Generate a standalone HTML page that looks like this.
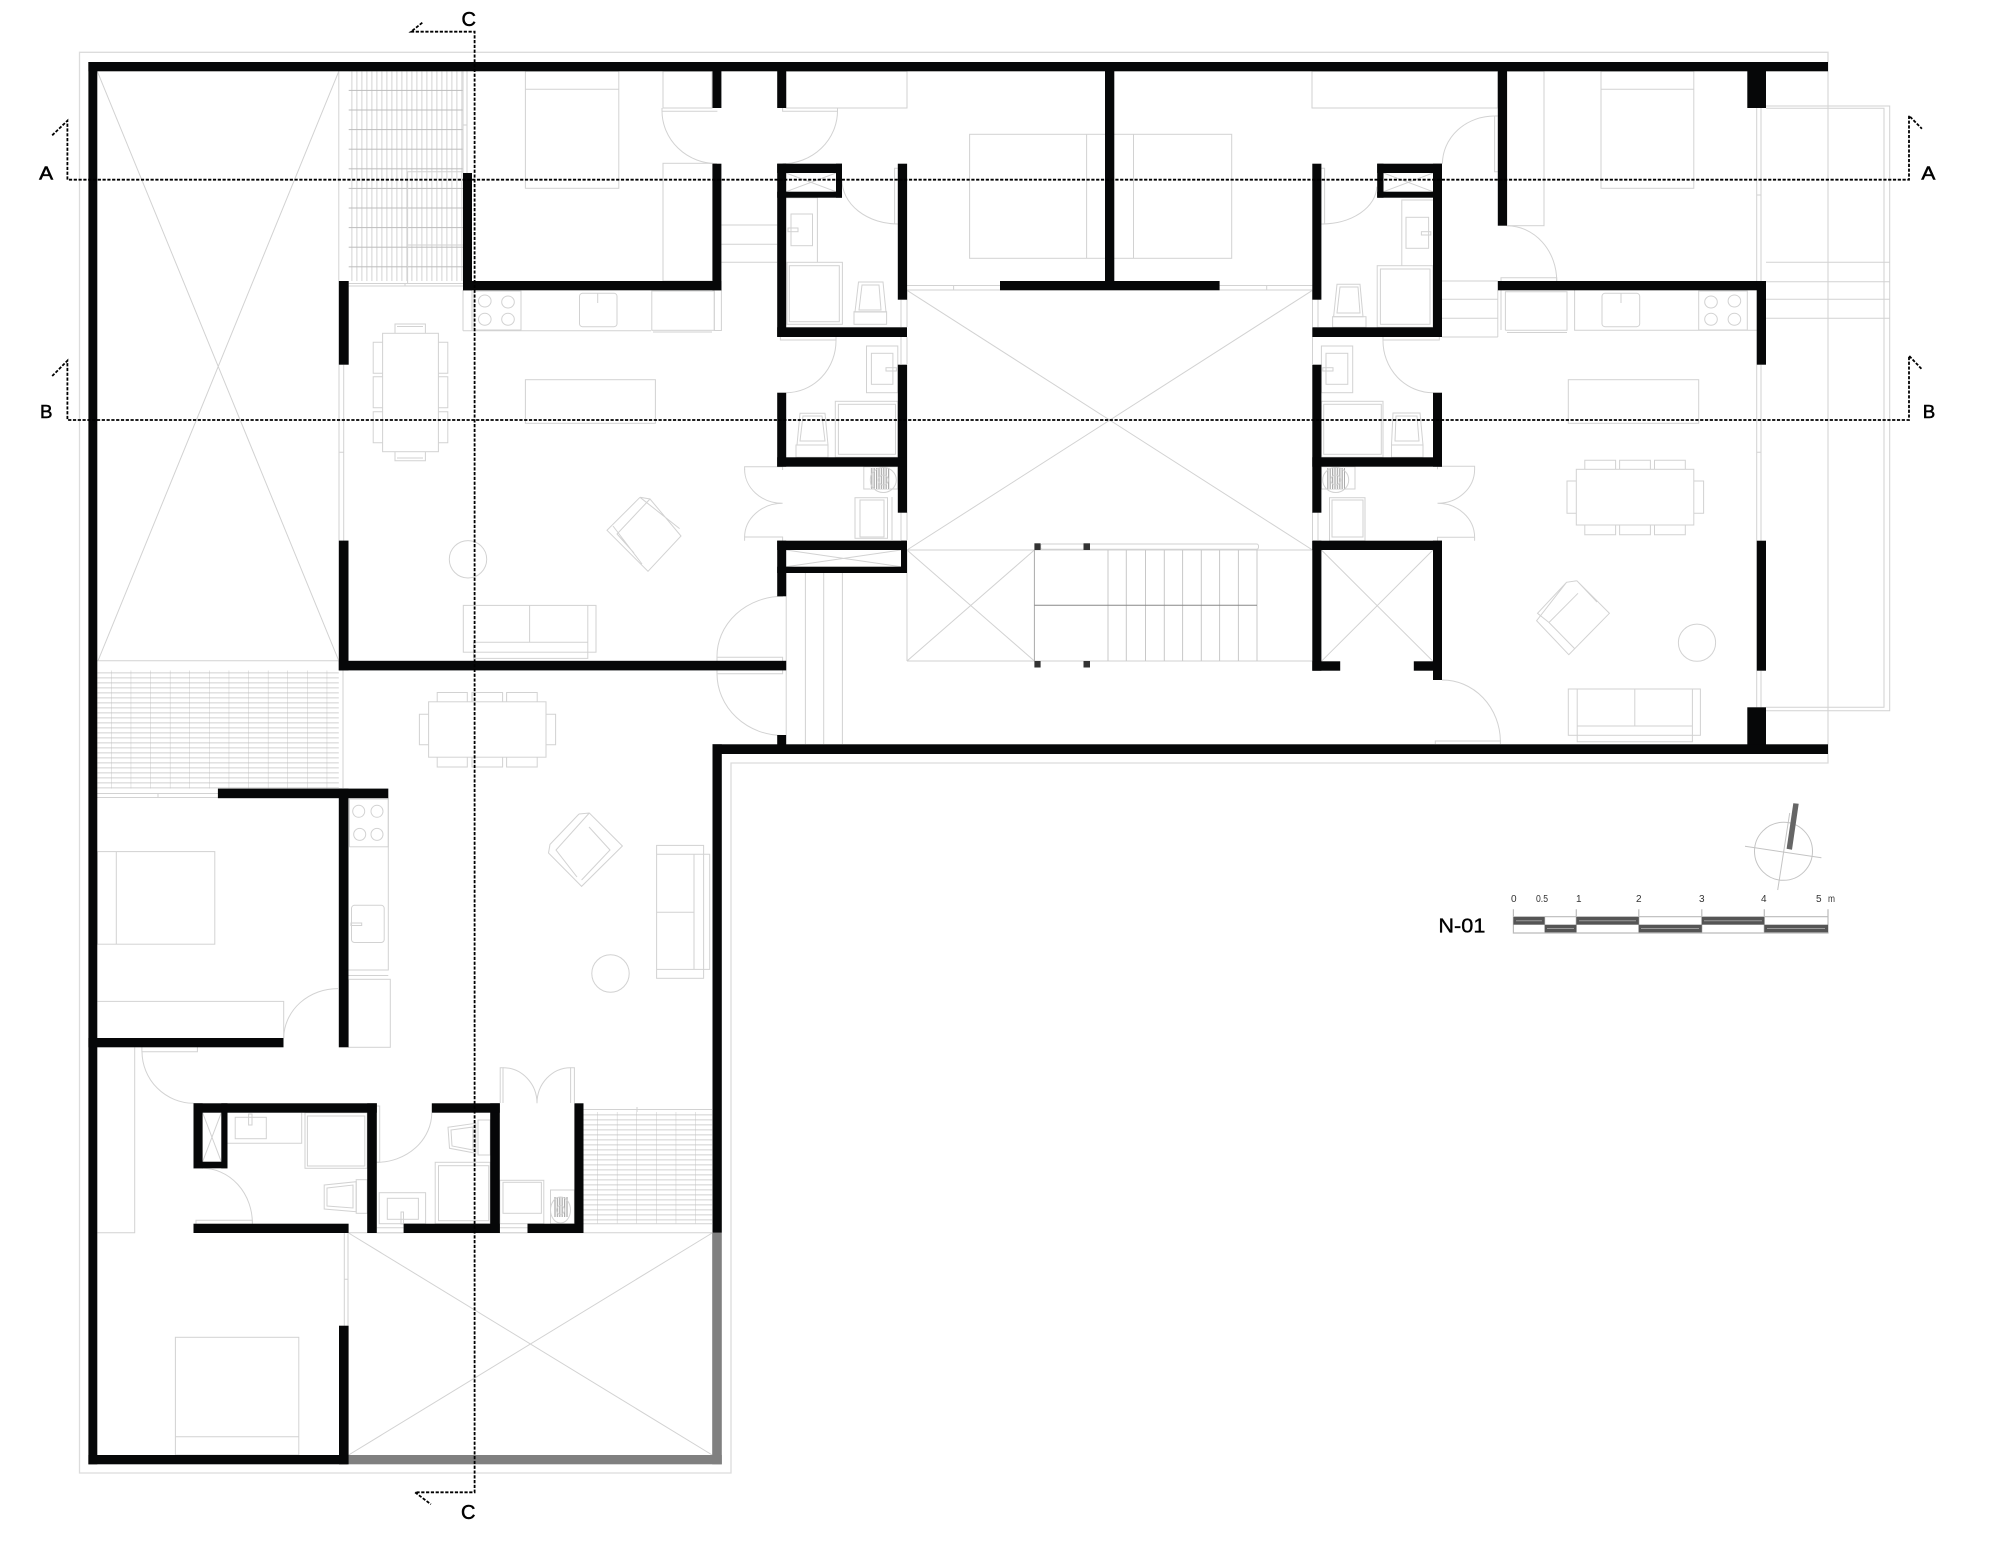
<!DOCTYPE html>
<html><head><meta charset="utf-8"><style>html,body{margin:0;padding:0;background:#fff}svg{display:block}text{font-family:"Liberation Sans",sans-serif}</style></head><body>
<svg xmlns="http://www.w3.org/2000/svg" width="2000" height="1545" viewBox="0 0 2000 1545">
<defs>
<pattern id="g1" patternUnits="userSpaceOnUse" x="349.2" y="71.3" width="5" height="19.6"><rect width="5" height="19.6" fill="#fff"/><rect x="2" width="1.3" height="19.6" fill="#dedede"/><rect y="18.6" width="5" height="1" fill="#bdbdbd"/></pattern>
<pattern id="g2" patternUnits="userSpaceOnUse" x="92" y="670" width="19.6" height="5"><rect width="19.6" height="5" fill="#fff"/><rect y="2.2" width="19.6" height="1.3" fill="#dcdcdc"/><rect x="19.2" width="1" height="5" fill="#bdbdbd"/></pattern>
<pattern id="g3" patternUnits="userSpaceOnUse" x="578.2" y="1107" width="19.6" height="5"><rect width="19.6" height="5" fill="#fff"/><rect y="2.2" width="19.6" height="1.3" fill="#dcdcdc"/><rect x="19.2" width="1" height="5" fill="#bdbdbd"/></pattern>
<pattern id="h" patternUnits="userSpaceOnUse" width="2.4" height="4"><rect width="2.4" height="4" fill="#fff"/><rect width="1.2" height="4" fill="#aaa"/></pattern>
</defs>
<rect width="2000" height="1545" fill="#fff"/>
<rect x="348.7" y="71.3" width="114.3" height="209.7" fill="url(#g1)"/>
<rect x="97.4" y="670.5" width="241.4" height="118" fill="url(#g2)"/>
<rect x="583.5" y="1112" width="128.7" height="111.7" fill="url(#g3)"/>
<g fill="none" stroke="#d2d2d2" stroke-width="1">
<path d="M79.5 52.3H1828V763H731V1473H79.5Z" stroke="#dcdcdc" stroke-width="1.3"/>
<path d="M97.3 71.3L338.8 660.8M338.8 71.3L98 660.8M97 660.8H339M338.8 71V281M343 670V788M463 71V173M467 71V173M463 125H467M407.6 283V171.7H463M407.6 245H463M348.7 283.5H463M348.7 286H463M405 283V286M97 793.5H218M97 797.5H218M158 793V798"/>
<path d="M348 1232.7H712M583 1109.5H712M637 1107V1112M348.6 1233L712.2 1455M712.2 1233L348.6 1455M344.3 1233V1325.7M348 1233V1325.7M344 1279.3H348"/>
<path d="M907 290.3L1312.5 550M1312.5 290.3L907 550M907 550H1312.5M907 661H1312.5M907 550V661M907 550L1034.4 661M1034.4 550L907 661M1321.4 550L1433 661.3M1433 550L1321.4 661.3M786 550L901 566.7M786 566.7L901 550M786 173L836 191.7M786 191.7L836 173M1383.5 173L1433 191.7M1383.5 191.7L1433 173M202.6 1112.7L221.3 1161.7M221.3 1112.7L202.6 1161.7"/>
<path d="M786.2 573V735M805.4 573V744M823.7 573V744M842.4 573V744M907 285.5H1000M907 290H1000M953.6 285V290M1219.6 285.5H1312.5M1219.6 290H1312.5M1266.7 285V290M901 299.7V327M907 290V327M901 337V364M907 337V364M901 512V540M907 512V540M892 497V540M1312.5 290V327M1318 299V327M1312.5 337V364M1312.5 512V540M1318 512V540"/>
<path d="M1108 550V661M1126.3 550V661M1145.5 550V661M1164.3 550V661M1182.6 550V661M1201.3 550V661M1219.6 550V661M1238.4 550V661M1257 550V661" stroke="#c8c8c8"/>
<path d="M1034.4 550V661" stroke="#aaa"/><path d="M1034.4 605.3H1257" stroke="#888"/>
<rect x="1040.6" y="544" width="217.9" height="5.3" rx="2"/>
<path d="M721.4 225H777.2M721.4 244.3H777.2M721.4 262.3H777.2M1442 281H1497.8M1442 299.3H1497.8M1442 318.3H1497.8M1442 337H1497.8M1497.8 337V290"/>
<rect x="525.4" y="71.3" width="93.4" height="117"/><path d="M525.4 89.3H618.8"/>
<rect x="663" y="71.3" width="49" height="36.7"/><rect x="663" y="163.3" width="49.5" height="117.7"/><rect x="786" y="71.3" width="121" height="36.7"/>
<rect x="969.6" y="134.3" width="262.1" height="124"/><path d="M1086.6 134.3V258.3M1133.5 134.3V258.3"/>
<rect x="1312" y="71.3" width="185.8" height="36.7"/><rect x="1507" y="71.3" width="37" height="154.4"/>
<rect x="1601" y="71.3" width="92.8" height="117"/><path d="M1601 89.3H1693.8"/>
<path d="M662 111A55 53 0 0 0 717 163.7M837.5 111A55 53 0 0 1 782.6 163.7M842 180A56 44 0 0 0 897.8 224M1321.4 224A55 38 0 0 0 1376.8 186.7M1494.6 116A52 48 0 0 0 1442.4 163.7M1507 225.7A50 55 0 0 1 1556.7 281M836 340A50 52 0 0 1 786.2 392.7M1383 340A50 52 0 0 0 1433 392.7M717 657A66 60 0 0 1 783 596.3M717 673.7A66 62 0 0 0 783 735.5M1442 680A58 62 0 0 1 1500.4 741M1474.6 469A37 34 0 0 1 1437.5 503.3M1474.6 537.3A37 34 0 0 0 1437.5 503.3M744.6 469A38 34 0 0 0 782.6 503.3M744.6 537.3A38 34 0 0 1 782.6 503.3M338 988.6A54 50 0 0 0 283.7 1038M142 1051.7A52 52 0 0 0 193.5 1103.3M202 1168.3A50 55 0 0 1 252.4 1223.7M376.8 1162.3A55 50 0 0 0 431.8 1112.7M503 1067.7A34 35.6 0 0 1 537 1103.3M570.6 1067.7A33.6 35.6 0 0 0 537 1103.3"/>
<path d="M662 108V111.3H717.4M782.6 108V111.3H837.5V108M894.6 224V168.3H897.8M1321.4 168.3H1324.6V224H1321.4M1494.6 116H1497.8M1494.6 116V171.7H1497.8M1501 281V277.7H1556.7V281M780.4 337V340H836V337M1383 337V340H1439.3V337M717 661V657.3H782.6V661M717 670.3V673.7H782.6V670.3M1437.5 469.3V466.3H1474.6V469.3M1437.5 540.7V537.3H1474.6V540.7M744.6 470V466.7H782.6V470M744.6 540.7V537H782.6V540.7M1435.3 744V741H1500.4V744M141.9 1047V1051.7H197.4V1047M196 1223.7V1220.3H252.4V1223.7M376.8 1106H379.7V1162.3H376.8M500.2 1103V1067.7H503V1103M570.6 1103V1067.7H574.4V1103"/>
<path d="M786 197.7H817.4V262.3"/><rect x="791" y="214" width="21.5" height="31.7"/><rect x="788" y="228" width="10" height="3.7"/>
<rect x="787" y="262.3" width="55.4" height="62"/><rect x="789.3" y="265.7" width="50" height="56"/>
<path d="M858.5 282L883 282L886 312L855 312ZM862 285L879 285L881 310L859 310Z"/><rect x="854" y="311.7" width="32.6" height="12.6"/>
<path d="M1401.8 265.7V200H1433"/><rect x="1406" y="217.3" width="22.6" height="31"/><rect x="1421.4" y="231.7" width="9.4" height="3.3"/>
<rect x="1377.2" y="265.7" width="55.8" height="61.6"/><rect x="1380.4" y="269" width="49.6" height="55.3"/>
<path d="M1337 284.3L1360 284.3L1363 316.7L1333.6 316.7ZM1340 287L1358 287L1360 313L1337 313Z"/><rect x="1332.6" y="316.7" width="33.4" height="10.6"/>
<rect x="866.5" y="346" width="31.3" height="46.7"/><rect x="871.4" y="353.3" width="21.5" height="31"/><rect x="886" y="367.7" width="10.4" height="3.3"/>
<rect x="835.3" y="401.3" width="62.5" height="56"/><rect x="838.4" y="404.3" width="57.1" height="50"/>
<path d="M800 413.3L825 413.3L828 445L797 445ZM803 416L822 416L825 441L800 441Z"/><rect x="796" y="445" width="32" height="12.3"/>
<rect x="1321.4" y="346" width="31.3" height="46.7"/><rect x="1326" y="353.3" width="21.8" height="31"/><rect x="1322.8" y="367.7" width="10.2" height="3.3"/>
<rect x="1321.4" y="401.3" width="61.6" height="56"/><rect x="1323.7" y="404.3" width="57.6" height="50"/>
<path d="M1393 413L1420 413L1423 445L1391.5 445ZM1396 416L1417 416L1419 441L1395 441Z"/><rect x="1391.5" y="445" width="31.5" height="12.3"/>
<rect x="863.8" y="466.7" width="34" height="22.3"/><rect x="870" y="468" width="20" height="21" fill="url(#h)" stroke="none"/><ellipse cx="883.3" cy="480" rx="13" ry="12.5"/><ellipse cx="883.3" cy="480" rx="5" ry="5"/><rect x="855" y="497.7" width="32.5" height="40.6"/><rect x="860" y="500" width="24" height="37"/>
<rect x="1321.4" y="466.7" width="33.6" height="22.3"/><rect x="1327" y="468" width="18" height="21" fill="url(#h)" stroke="none"/><ellipse cx="1335.7" cy="480" rx="13" ry="12.5"/><ellipse cx="1335.7" cy="480" rx="5" ry="5"/><rect x="1329.5" y="497.7" width="35.5" height="43"/><rect x="1332" y="500" width="31" height="37"/>
<path d="M463 330.7H651M463 290V330.7M472 290V330.7"/><rect x="474" y="291" width="47" height="39"/><ellipse cx="484.8" cy="301" rx="6.3" ry="6"/><ellipse cx="508" cy="302" rx="6.3" ry="6"/><ellipse cx="484.8" cy="319.3" rx="6.3" ry="6"/><ellipse cx="508" cy="319.3" rx="6.3" ry="6"/><rect x="579.5" y="293.3" width="37.5" height="33.4" rx="3"/><path d="M597.7 293V303"/><rect x="651.8" y="291" width="62.5" height="39.3"/><path d="M653 332H712"/><path d="M714.3 291V330.5H721.4V290"/>
<path d="M1505.4 330.3V291.7H1567V330.3H1505.4M1507 332.5H1567M1574.6 290V330.3H1756.7M1501 290V330"/><rect x="1602" y="293.3" width="37.7" height="33.4" rx="3"/><path d="M1621 293V303"/><rect x="1698.7" y="291" width="48.6" height="39"/><ellipse cx="1711" cy="302" rx="6.3" ry="6"/><ellipse cx="1734.4" cy="301" rx="6.3" ry="6"/><ellipse cx="1711" cy="319.3" rx="6.3" ry="6"/><ellipse cx="1734.4" cy="319.3" rx="6.3" ry="6"/>
<rect x="525.4" y="379.7" width="130" height="43.6"/><rect x="1568.3" y="379.7" width="130.4" height="43.6"/>
<path d="M339 364.7V540.6M343.7 364.7V540.6M339 452.3H343.7M1756.7 108V281M1761 108V281M1756.7 364.7V540.7M1761 364.7V540.7M1756.7 670.7V707.3M1761 670.7V707.3M1756.7 195H1761M1756.7 452.3H1761"/>
<path d="M1766 106H1889.7V710.7H1766M1766 108.3H1884V707.3H1766M1766 262.3H1889.7M1766 281.7H1889.7M1766 299.3H1889.7M1766 318.3H1889.7"/>
<rect x="1576.3" y="469.3" width="117.5" height="55.7"/><path d="M1584.8 469.3V460.3H1615.6V469.3M1619.6 469.3V460.3H1650.4V469.3M1654.5 469.3V460.3H1685.3V469.3M1584.8 525V534.7H1615.6V525M1619.6 525V534.7H1650.4V525M1654.5 525V534.7H1685.3V525M1576.3 481H1567V513.3H1576.3M1693.8 481H1703.6V513.3H1693.8"/>
<path d="M1576.8 580.7L1609.4 613.3L1568.8 654.7L1536.6 620.7L1566.5 582.3L1576.8 580.7M1566.5 582.3L1537.5 613.3L1549 622.5L1578 593.3M1576.8 580.7L1597 602M1549 622.5L1575 649"/>
<circle cx="1697" cy="642.7" r="18.6"/>
<rect x="1568.3" y="689" width="132.1" height="46.3"/><path d="M1577.2 689V741.7H1692.4V689M1577.2 726H1692.4M1634.8 689V726"/>
<rect x="382.6" y="333.3" width="55.8" height="118.4"/><path d="M395 333.3V324H425.4V333.3M397 326.5H423M395 451.7V460.7H425.4V451.7M397 458H423M382.6 342.3H373.2V373.3H382.6M382.6 376.7H373.2V407.7H382.6M382.6 411.7H373.2V442.7H382.6M438.4 342.3H447.8V373.3H438.4M438.4 376.7H447.8V407.7H438.4M438.4 411.7H447.8V442.7H438.4"/>
<path d="M640 497.3L607 530.3L648 571.3L681 536L650 499L640 497.3M650 499L617 534L634 553M640 497.3L679.6 528.6M613 526L642 564"/>
<circle cx="468" cy="559.3" r="18.7"/>
<rect x="463.3" y="605.4" width="132.7" height="46.8"/><path d="M529.6 605.4V642.2M587.8 605.4V658.4H473.5V642.2H587.8"/>
<rect x="428.6" y="701.8" width="117.4" height="55.4"/><path d="M437.2 701.8V692.5H467.3V701.8M472 701.8V692.5H502.6V701.8M506.6 701.8V692.5H537.2V701.8M437.2 757.2V767H467.3V757.2M472 757.2V767H502.6V757.2M506.6 757.2V767H537.2V757.2M428.6 714.2H419.4V744.8H428.6M546 714.2H555.6V744.8H546"/>
<path d="M579 814L550 844.4L548.5 853L581.6 886.4L622.4 846L589.3 813L579 814M589.3 813L556 850L577 877M589 827L610 850L581.6 880"/>
<circle cx="610.5" cy="973.5" r="18.7"/>
<rect x="656.6" y="845.4" width="47" height="132.9"/><path d="M656.6 854.2H709.7V969.4H656.6M694 854.2V969.4M656.6 912.2H694"/>
<rect x="97.4" y="851.6" width="117.4" height="92.6"/><path d="M116.3 851.6V944.2M97.4 1001.4H283.7V1038"/>
<rect x="349.5" y="799" width="38.8" height="47.8"/><ellipse cx="358.7" cy="811.3" rx="6" ry="6"/><ellipse cx="377" cy="811.3" rx="6" ry="6"/><ellipse cx="359.7" cy="834.4" rx="6" ry="6"/><ellipse cx="377" cy="834.4" rx="6" ry="6"/>
<path d="M388.3 798V970H348.5"/><rect x="351.5" y="905.3" width="32.7" height="37.2" rx="3"/><rect x="351" y="923" width="10.7" height="2.5"/><rect x="348.5" y="979.3" width="41.8" height="68"/><path d="M348.5 975.5H388.3"/>
<path d="M134.7 1047.3V1232.7H97.4"/>
<path d="M227.5 1143.3H301.7V1112.7"/><rect x="235.2" y="1117.3" width="31.1" height="21.4"/><rect x="248.6" y="1114" width="3.4" height="11"/>
<rect x="305" y="1112.7" width="62.2" height="55.6"/><rect x="307.4" y="1116" width="57.4" height="50"/>
<path d="M324.2 1185L356.2 1181.7V1211.7L324.2 1209ZM327 1188L353 1185V1208L327 1206Z"/><rect x="356.2" y="1179.7" width="11" height="33.6"/>
<path d="M448 1127.3L475.8 1123.3V1153.3L449.5 1148.3ZM451 1130L473 1127V1150L452 1146Z"/><rect x="478" y="1120" width="12.2" height="35"/>
<rect x="435.2" y="1162.3" width="55" height="61.4"/><rect x="438.5" y="1165.7" width="50.2" height="55"/>
<rect x="379.2" y="1192.7" width="46.4" height="31"/><rect x="387.3" y="1198.3" width="31.1" height="21"/><rect x="401" y="1212" width="2.5" height="12"/>
<rect x="499.8" y="1180.3" width="44" height="43.4"/><rect x="503" y="1182.3" width="38.4" height="31"/>
<rect x="550.5" y="1190" width="23.9" height="33.7"/><rect x="553.5" y="1197" width="15" height="20" fill="url(#h)" stroke="none"/><ellipse cx="560.5" cy="1210" rx="10" ry="13"/><ellipse cx="560.5" cy="1210" rx="4" ry="4.5"/>
<path d="M376.8 1227.7H403.6M376.8 1232.7H403.6M499.8 1227.7H527.5M499.8 1232.7H527.5M583.5 1223.7H712"/>
<rect x="175.4" y="1337.3" width="123.4" height="117.7"/><path d="M175.4 1436.7H298.8"/>
</g>
<g fill="#333"><rect x="1034.4" y="543.3" width="6.2" height="6.7"/><rect x="1083.5" y="543.3" width="6.5" height="6.7"/><rect x="1034.4" y="661" width="6.2" height="6.5"/><rect x="1083.5" y="661" width="6.5" height="6.5"/></g>
<g fill="#808080"><rect x="347.6" y="1455" width="374.2" height="9.3"/><rect x="712.2" y="1232.7" width="9.6" height="231.6"/></g>
<g fill="#060708">
<rect x="88.4" y="62" width="1739.6" height="9.3"/><rect x="88.4" y="62" width="8.9" height="1402.3"/><rect x="88.4" y="1455" width="259.2" height="9.3"/>
<rect x="463" y="173" width="9" height="117.3"/><rect x="463" y="281" width="258.4" height="9.3"/><rect x="712.5" y="163.7" width="8.9" height="126.6"/><rect x="712.5" y="71" width="8.9" height="37"/><rect x="777.2" y="71" width="9" height="37"/>
<rect x="777.2" y="163.7" width="9" height="173"/><rect x="777.2" y="163.7" width="64.8" height="9.3"/><rect x="777.2" y="191.7" width="64.8" height="6"/><rect x="836" y="163.7" width="6" height="34"/>
<rect x="777.2" y="327.3" width="129.8" height="9.7"/><rect x="897.8" y="163.7" width="9.3" height="136"/><rect x="897.8" y="364.7" width="9.3" height="148"/>
<rect x="777.2" y="392.7" width="9" height="74"/><rect x="777.2" y="457.3" width="129.8" height="9.4"/>
<rect x="1105" y="71" width="9.3" height="219"/><rect x="1000" y="281" width="219.6" height="9.3"/>
<rect x="1312.3" y="163.7" width="9.1" height="136"/><rect x="1312.3" y="364.7" width="9.1" height="148"/><rect x="1312.3" y="327.3" width="129.7" height="9.7"/>
<rect x="1377.2" y="163.7" width="64.8" height="9.3"/><rect x="1377.2" y="163.7" width="6.3" height="34"/><rect x="1377.2" y="191.7" width="64.8" height="6"/><rect x="1433" y="163.7" width="9" height="173"/>
<rect x="1433" y="392.7" width="9" height="74"/><rect x="1312.3" y="457.3" width="129.7" height="9.4"/>
<rect x="1497.8" y="71" width="9.2" height="154.7"/><rect x="1497.8" y="281" width="268.2" height="9.3"/><rect x="1756.7" y="281" width="9.3" height="83.7"/><rect x="1747.3" y="71" width="18.7" height="37"/>
<rect x="1756.7" y="540.7" width="9.3" height="130"/><rect x="1747.3" y="707.3" width="18.7" height="40"/>
<rect x="1312.3" y="540.7" width="9.1" height="130"/><rect x="1312.3" y="540.7" width="129.7" height="9.3"/><rect x="1433" y="540.7" width="9" height="139.3"/><rect x="1312.3" y="661.3" width="27.9" height="9.4"/><rect x="1413.8" y="661.3" width="28.2" height="9.4"/>
<rect x="777.2" y="540.7" width="129.8" height="9.3"/><rect x="901" y="540.7" width="6" height="32.3"/><rect x="777.2" y="566.7" width="129.8" height="6.3"/><rect x="777.2" y="540.7" width="9" height="55.6"/><rect x="777.2" y="735" width="9" height="12"/>
<rect x="338.8" y="660.8" width="447.4" height="9.6"/><rect x="338.8" y="540.6" width="9.7" height="129.8"/><rect x="338.8" y="281" width="9.9" height="83.7"/>
<rect x="217.9" y="788.6" width="170.4" height="9.6"/><rect x="338.8" y="788.6" width="9.7" height="258.7"/><rect x="88.4" y="1038" width="195.1" height="9.3"/>
<rect x="712.5" y="744.3" width="1115.5" height="9.7"/><rect x="712.5" y="744.3" width="9.3" height="488.4"/>
<rect x="193.5" y="1103.3" width="183.3" height="9.4"/><rect x="367.2" y="1103.3" width="9.6" height="129.7"/><rect x="193.5" y="1103.3" width="9.1" height="65"/><rect x="221.3" y="1103.3" width="6.2" height="65"/><rect x="193.5" y="1161.7" width="34" height="6.6"/>
<rect x="193.5" y="1223.7" width="155.1" height="9.3"/><rect x="403.6" y="1223.7" width="96.2" height="9.3"/><rect x="490.2" y="1103.3" width="9.6" height="129.7"/><rect x="431.8" y="1103.3" width="68" height="9.4"/>
<rect x="574.4" y="1103.3" width="9.1" height="129.7"/><rect x="527.5" y="1223.7" width="56" height="9.3"/><rect x="339" y="1325.7" width="9.6" height="138.6"/>
</g>
<g fill="none" stroke="#000" stroke-width="1.8" stroke-dasharray="3.2 1.6">
<path d="M52.2 135.3L67.4 120.7V179.7H1909V115.7L1921.9 128.7"/>
<path d="M52.2 376L67.4 360.7V420H1909V355.7L1921.9 369.3"/>
<path d="M422.3 22.7L411 31.7H474.6V1492.3H415L430.9 1504.3"/>
</g>
<g fill="#000" font-size="18" stroke="#000" stroke-width="0.5">
<text x="39.2" y="179.3" textLength="14" lengthAdjust="spacingAndGlyphs">A</text><text x="40" y="418" textLength="12.5" lengthAdjust="spacingAndGlyphs">B</text><text x="1921.4" y="179.3" textLength="14" lengthAdjust="spacingAndGlyphs">A</text><text x="1922.8" y="418" textLength="12.5" lengthAdjust="spacingAndGlyphs">B</text>
<text x="461.5" y="26" font-size="20">C</text><text x="461" y="1519" font-size="20">C</text>
<text x="1438.4" y="932.7" font-size="20" textLength="47" lengthAdjust="spacingAndGlyphs" stroke-width="0.35">N-01</text>
</g>
<g fill="#333" font-size="10">
<text x="1511" y="902">0</text><text x="1536" y="902" textLength="12" lengthAdjust="spacingAndGlyphs">0.5</text><text x="1576" y="902">1</text><text x="1636" y="902">2</text><text x="1699" y="902">3</text><text x="1761" y="902">4</text><text x="1816" y="902">5</text><text x="1828" y="902" textLength="7" lengthAdjust="spacingAndGlyphs">m</text>
</g>
<g fill="none" stroke="#bbb" stroke-width="1.2"><path d="M1513.4 909.3V933H1828V909.3M1544.6 916.7V924.7M1576.3 909.3V933M1638.8 909.3V933M1701.8 909.3V933M1764.3 909.3V933M1513.4 916.7H1828"/></g>
<g fill="#555"><rect x="1513.4" y="917" width="31.2" height="7.7"/><rect x="1576.3" y="917" width="62.5" height="7.7"/><rect x="1701.8" y="917" width="62.5" height="7.7"/><rect x="1544.6" y="924.7" width="31.7" height="7.7"/><rect x="1638.8" y="924.7" width="63" height="7.7"/><rect x="1764.3" y="924.7" width="63.7" height="7.7"/></g>
<g fill="none" stroke="#999" stroke-width="1"><path d="M1516 920.8H1542M1579 920.8H1636M1704 920.8H1762M1547 928.5H1574M1641 928.5H1699M1767 928.5H1825"/></g>
<g fill="none" stroke="#c4c4c4" stroke-width="1"><circle cx="1783.5" cy="851.3" r="29"/><path d="M1745 846.3L1821.4 857.7M1789.7 813L1777.7 890"/></g>
<polygon points="1793.3,803.3 1798.7,803.7 1792,849.7 1786.6,848.7" fill="#666"/>
</svg>
</body></html>
